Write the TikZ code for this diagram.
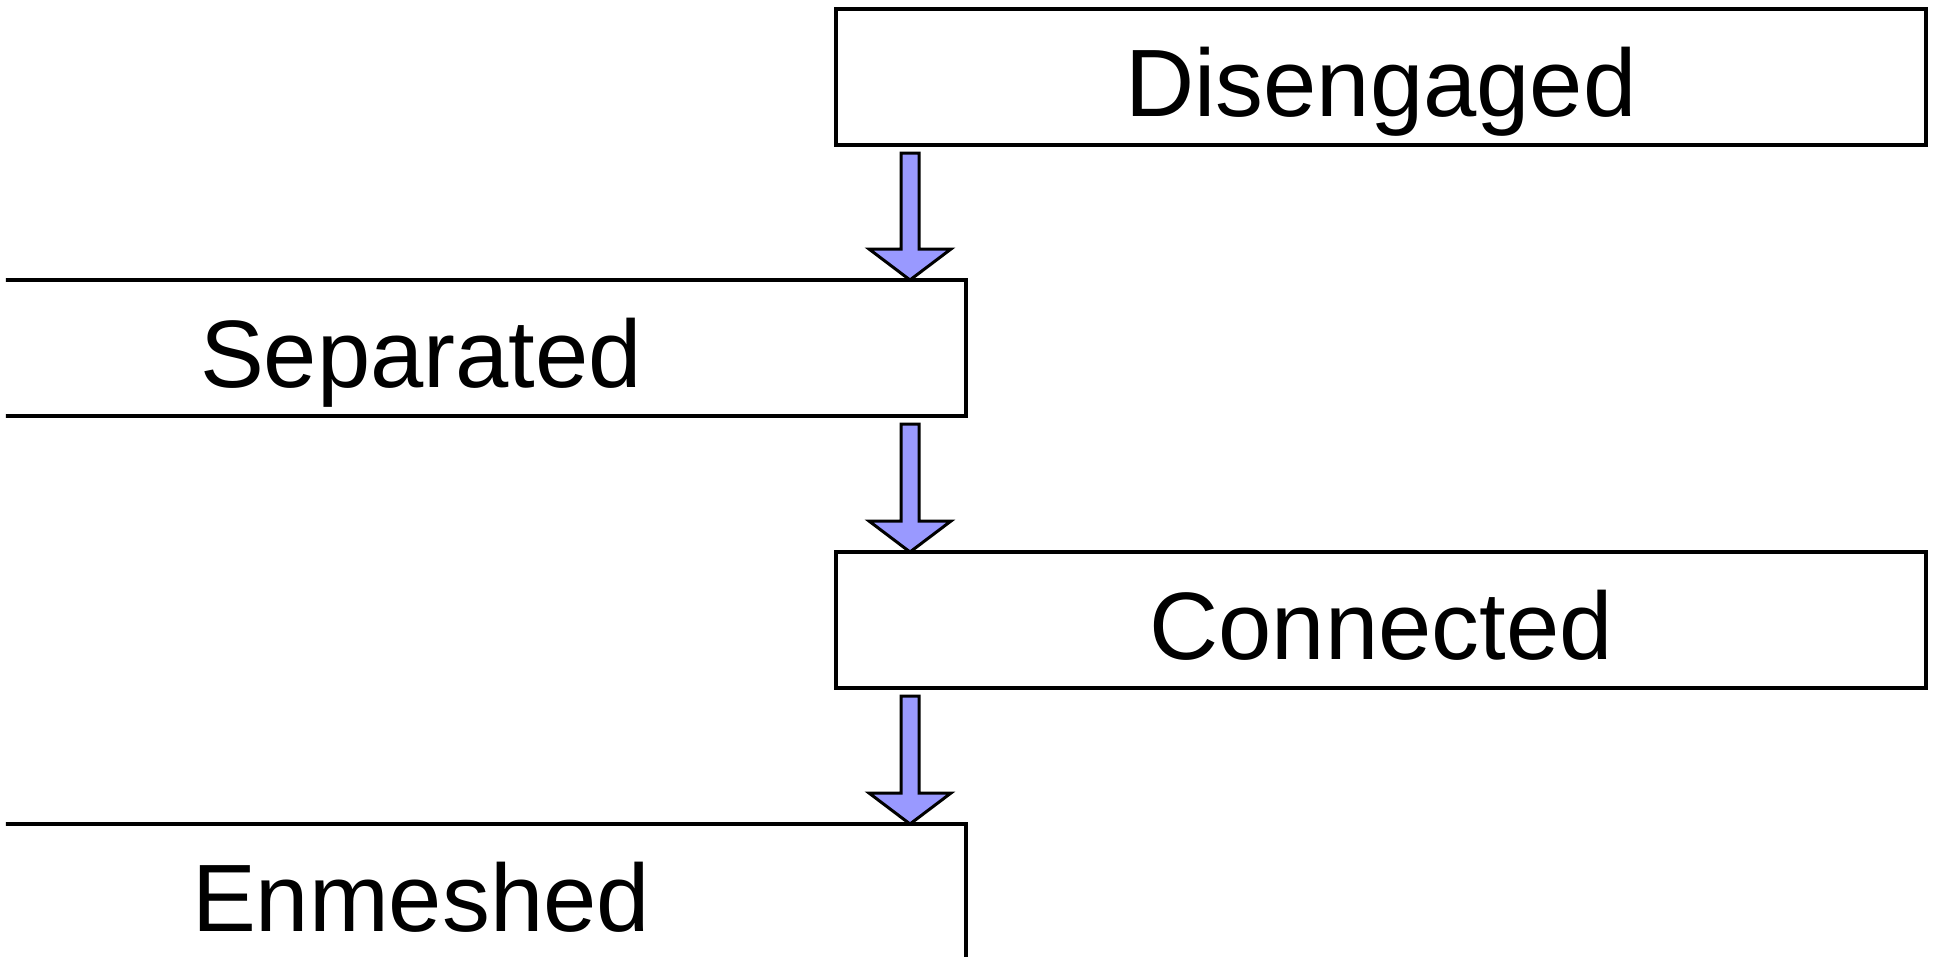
\documentclass[tikz,border=0pt]{standalone}
\usepackage{fontspec}
\setmainfont{Liberation Sans}
\usetikzlibrary{calc,positioning}
\definecolor{arrowblue}{RGB}{153,153,255}

% block arrow straight down the arrow column, from one stage to the next
\newcommand{\flowarrow}[2]{%
  \draw[flow] let \p1=(axis |- #1.south), \p2=(axis |- #2.north) in
    (\x1-0.18cm,\y1-0.16cm) -- (\x1+0.18cm,\y1-0.16cm) -- (\x1+0.18cm,\y2+0.62cm)
    -- (\x1+0.82cm,\y2+0.62cm) -- (\x1,\y2) -- (\x1-0.82cm,\y2+0.62cm)
    -- (\x1-0.18cm,\y2+0.62cm) -- cycle;}

\begin{document}
\begin{tikzpicture}[
  stage/.style={draw,line width=0.07cm,fill=white,minimum width=21.8cm,minimum height=2.72cm,
    inner sep=0pt,outer sep=0pt,text height=1.96cm,text depth=0.4cm,font=\fontsize{54.5}{60}\selectfont},
  flow/.style={draw,line width=0.06cm,fill=arrowblue,line join=miter},
 ]

\useasboundingbox (0,0) rectangle (38.7,-19.16);
\clip (0.12,0) rectangle (38.7,-19.12);

\node[stage] (D) at (27.62,-1.54) {Disengaged};
\node[stage, below left=2.7cm and -2.6cm of D.south west] (S) {Separated};
\node[stage, below right=2.72cm and -2.6cm of S.south east] (C) {Connected};
\node[stage, below left=2.72cm and -2.6cm of C.south west] (E) {Enmeshed};

\coordinate (axis) at ($(D.south west)+(1.48,0)$);

\flowarrow{D}{S}
\flowarrow{S}{C}
\flowarrow{C}{E}

\end{tikzpicture}
\end{document}
